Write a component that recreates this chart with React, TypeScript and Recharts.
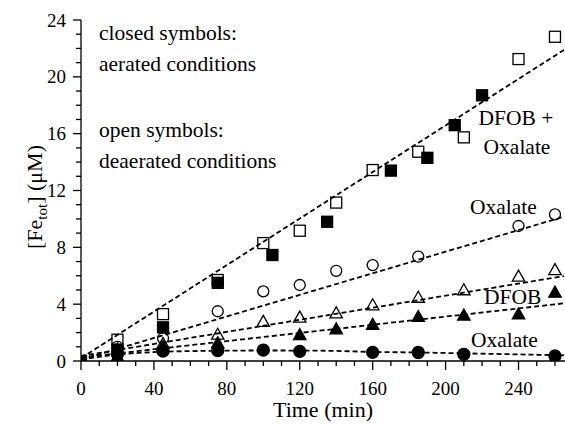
import { ComposedChart, Line, Scatter, XAxis, YAxis } from 'recharts';

// measured points: [time (min), Fe_tot (uM)]
const dfobOxAerated = [
  [0, 0], [20, 0.8], [45, 2.37], [75, 5.5], [105, 7.46], [135, 9.8],
  [170, 13.4], [190, 14.3], [205, 16.6], [220, 18.7],
];
const dfobOxDeaerated = [
  [20, 1.5], [45, 3.3], [75, 5.7], [100, 8.3], [120, 9.17], [140, 11.15],
  [160, 13.44], [185, 14.73], [210, 15.74], [240, 21.25], [260, 22.82],
];
const oxDeaerated = [
  [20, 1.0], [45, 1.6], [75, 3.5], [100, 4.9], [120, 5.35], [140, 6.35],
  [160, 6.75], [185, 7.34], [240, 9.5], [260, 10.32],
];
const dfobDeaerated = [
  [20, 0.8], [45, 1.2], [75, 1.85], [100, 2.75], [120, 3.05], [140, 3.35],
  [160, 3.92], [185, 4.45], [210, 4.98], [240, 5.94], [260, 6.4],
];
const dfobAerated = [
  [20, 0.3], [45, 1.0], [75, 1.25], [120, 1.83], [140, 2.23], [160, 2.55],
  [185, 3.1], [210, 3.2], [240, 3.28], [260, 4.81],
];
const oxAerated = [
  [20, 0.5], [45, 0.7], [75, 0.73], [100, 0.77], [120, 0.68], [160, 0.61],
  [185, 0.6], [210, 0.47], [260, 0.36],
];

// fitted trend lines
const fitDfobOx = [[0, 0.2], [265, 21.9]];
const fitOxDeaerated = [[0, 0.1], [265, 10.16]];
const fitDfobDeaerated = [[0, 0.35], [265, 5.98]];
const fitDfobAerated = [[0, 0.25], [265, 4.06]];
const fitOxAerated = [
  [0, 0.1], [20, 0.45], [45, 0.65], [75, 0.72], [100, 0.74], [135, 0.72],
  [160, 0.64], [185, 0.6], [210, 0.54], [265, 0.4],
];

const xTicks = [0, 10, 20, 30, 40, 50, 60, 70, 80, 90, 100, 110, 120, 130, 140, 150, 160, 170, 180, 190, 200, 210, 220, 230, 240, 250, 260];
const yTicks = [0, 1, 2, 3, 4, 5, 6, 7, 8, 9, 10, 11, 12, 13, 14, 15, 16, 17, 18, 19, 20, 21, 22, 23, 24];

const toXY = (arr: number[][]) => arr.map(([x, y]) => ({ x, y }));

const FONT = 'Liberation Serif';

const XTick = (props: any) => {
  const { x, y, payload } = props;
  const major = payload.value % 40 === 0;
  return (
    <g>
      <line x1={x} y1={y} x2={x} y2={y + (major ? 9 : 5)} stroke="#000" strokeWidth={1.3} />
      {major && (
        <text x={x} y={y + 34} textAnchor="middle" fill="#000" fontFamily={FONT} fontSize={19}>
          {payload.value}
        </text>
      )}
    </g>
  );
};

const YTick = (props: any) => {
  const { x, y, payload } = props;
  const major = payload.value % 4 === 0;
  return (
    <g>
      <line x1={x} y1={y} x2={x - (major ? 8 : 5)} y2={y} stroke="#000" strokeWidth={1.3} />
      {major && (
        <text x={x - 15} y={y + 6.5} textAnchor="end" fill="#000" fontFamily={FONT} fontSize={19}>
          {payload.value}
        </text>
      )}
    </g>
  );
};

const square = (filled: boolean) => (p: any) => (
  <rect x={p.cx - 5.5} y={p.cy - 5.5} width={11} height={11}
    fill={filled ? '#000' : 'none'} stroke="#000" strokeWidth={1.3} />
);
const circle = (filled: boolean) => (p: any) => (
  <circle cx={p.cx} cy={p.cy} r={filled ? 6 : 5.5}
    fill={filled ? '#000' : 'none'} stroke="#000" strokeWidth={1.3} />
);
const triangle = (filled: boolean) => (p: any) => (
  <path d={`M${p.cx},${p.cy - 6.5} L${p.cx + 6.2},${p.cy + 4.5} L${p.cx - 6.2},${p.cy + 4.5} Z`}
    fill={filled ? '#000' : 'none'} stroke="#000" strokeWidth={1.3} strokeLinejoin="miter" />
);

const dash = { stroke: '#000', strokeWidth: 1.8, strokeDasharray: '5 3' };

export default function App() {
  return (
    <div style={{ position: 'absolute', left: 0, top: 0, width: 565, height: 424, background: '#fff', fontFamily: FONT }}>
      <ComposedChart width={565} height={424} margin={{ top: 20, right: 0, bottom: 0, left: 1 }}>
        <XAxis type="number" dataKey="x" domain={[0, 265.5]} ticks={xTicks} interval={0}
          height={63} tickSize={0} tickMargin={0} tickLine={false} tick={<XTick />}
          axisLine={{ stroke: '#000', strokeWidth: 1.3 }} allowDataOverflow />
        <YAxis type="number" dataKey="y" domain={[0, 24]} ticks={yTicks} interval={0}
          width={80} tickSize={0} tickMargin={0} tickLine={false} tick={<YTick />}
          axisLine={{ stroke: '#000', strokeWidth: 1.3 }} allowDataOverflow />

        <Line data={toXY(fitDfobOx)} dataKey="y" type="linear" dot={false} isAnimationActive={false} {...dash} />
        <Line data={toXY(fitOxDeaerated)} dataKey="y" type="linear" dot={false} isAnimationActive={false} {...dash} />
        <Line data={toXY(fitDfobDeaerated)} dataKey="y" type="linear" dot={false} isAnimationActive={false} {...dash} />
        <Line data={toXY(fitDfobAerated)} dataKey="y" type="linear" dot={false} isAnimationActive={false} {...dash} />
        <Line data={toXY(fitOxAerated)} dataKey="y" type="monotone" dot={false} isAnimationActive={false} {...dash} />

        <Scatter data={toXY(oxAerated)} shape={circle(true)} isAnimationActive={false} />
        <Scatter data={toXY(dfobAerated)} shape={triangle(true)} isAnimationActive={false} />
        <Scatter data={toXY(dfobDeaerated)} shape={triangle(false)} isAnimationActive={false} />
        <Scatter data={toXY(oxDeaerated)} shape={circle(false)} isAnimationActive={false} />
        <Scatter data={toXY(dfobOxDeaerated)} shape={square(false)} isAnimationActive={false} />
        <Scatter data={toXY(dfobOxAerated)} shape={square(true)} isAnimationActive={false} />
      </ComposedChart>

      <svg width={565} height={424} style={{ position: 'absolute', left: 0, top: 0, pointerEvents: 'none' }}>
        <g fill="#000" fontFamily={FONT} fontSize={21.5}>
          <text x={99} y={40}>closed symbols:</text>
          <text x={99} y={71}>aerated conditions</text>
          <text x={99} y={137}>open symbols:</text>
          <text x={99} y={168}>deaerated conditions</text>
          <text x={516} y={125} textAnchor="middle">DFOB +</text>
          <text x={517} y={154} textAnchor="middle">Oxalate</text>
          <text x={470} y={214}>Oxalate</text>
          <text x={484} y={304}>DFOB</text>
          <text x={471} y={347}>Oxalate</text>
          <text x={323} y={417} textAnchor="middle" fontSize={22}>Time (min)</text>
          <text transform="rotate(-90, 42, 197)" x={42} y={197} textAnchor="middle" fontSize={22}>
            [Fe<tspan fontSize={15} dy={5}>tot</tspan><tspan dy={-5}>] (μM)</tspan>
          </text>
        </g>
      </svg>
    </div>
  );
}
